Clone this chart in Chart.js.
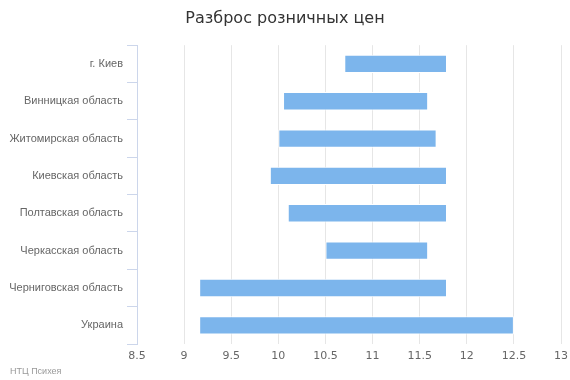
<!DOCTYPE html>
<html><head><meta charset="utf-8">
<script src="https://cdn.jsdelivr.net/npm/chart.js@4/dist/chart.umd.min.js"></script>
<style>html,body{margin:0;padding:0;background:#fff}#wrap{width:570px;height:380px}</style>
</head><body><div id="wrap"><canvas id="c" width="570" height="380"></canvas></div>
<script>
const categories = ["г. Киев","Винницкая область","Житомирская область","Киевская область","Полтавская область","Черкасская область","Черниговская область","Украина"];
const minPrices = [10.7, 10.05, 10.0, 9.91, 10.1, 10.5, 9.16, 9.16];
const maxPrices = [11.79, 11.59, 11.68, 11.79, 11.79, 11.59, 11.79, 12.5];
const xTicks = [8.5, 9, 9.5, 10, 10.5, 11, 11.5, 12, 12.5, 13];
const titleText = "Разброс розничных цен";
const creditText = "НТЦ Психея";

const FONT = "'DejaVu Sans', sans-serif";
const LFONT = "'Liberation Sans', Arial, sans-serif";
const credits = {
  id: 'credits',
  afterDraw(chart) {
    const ctx = chart.ctx;
    ctx.save();
    ctx.font = "9px " + LFONT;
    ctx.fillStyle = "#999";
    ctx.textBaseline = "middle";
    ctx.textAlign = "left";
    ctx.fillText(creditText, 10, 372);
    ctx.restore();
  }
};

new Chart(document.getElementById('c'), {
  type: 'bar',
  data: {
    labels: categories,
    datasets: [{
      data: categories.map((c, i) => [minPrices[i], maxPrices[i]]),
      backgroundColor: '#7cb5ec',
      borderColor: '#ffffff',
      borderWidth: 1,
      borderSkipped: false,
      categoryPercentage: 1,
      barPercentage: 0.49
    }]
  },
  options: {
    indexAxis: 'y',
    responsive: false,
    animation: false,
    layout: { padding: { left: 9, right: 9, top: 0, bottom: 0 } },
    plugins: {
      legend: { display: false },
      tooltip: { enabled: false },
      title: {
        display: true,
        text: titleText,
        color: '#333',
        font: { family: FONT, size: 16, weight: 'normal' },
        padding: { top: 9, bottom: 17 }
      }
    },
    scales: {
      x: {
        type: 'linear',
        min: 8.5, max: 13,
        afterBuildTicks(scale) { scale.ticks = xTicks.map(v => ({ value: v })); },
        afterFit(scale) { scale.height = 36; scale.paddingRight = 0; scale.paddingLeft = 0; },
        grid: { color: '#e6e6e6', lineWidth: 1, tickLength: 0, drawTicks: false },
        border: { display: false },
        ticks: { color: '#666', font: { family: FONT, size: 11 }, padding: 6, autoSkip: false, maxRotation: 0,
                 callback: (v) => String(v) }
      },
      y: {
        afterFit(scale) { scale.width = 128; },
        grid: { drawOnChartArea: false, color: '#ccd6eb', tickLength: 10, offset: true },
        border: { display: true, color: '#ccd6eb' },
        ticks: { color: '#666', font: { family: LFONT, size: 11 }, padding: 4, autoSkip: false }
      }
    }
  },
  plugins: [credits]
});
</script></body></html>
